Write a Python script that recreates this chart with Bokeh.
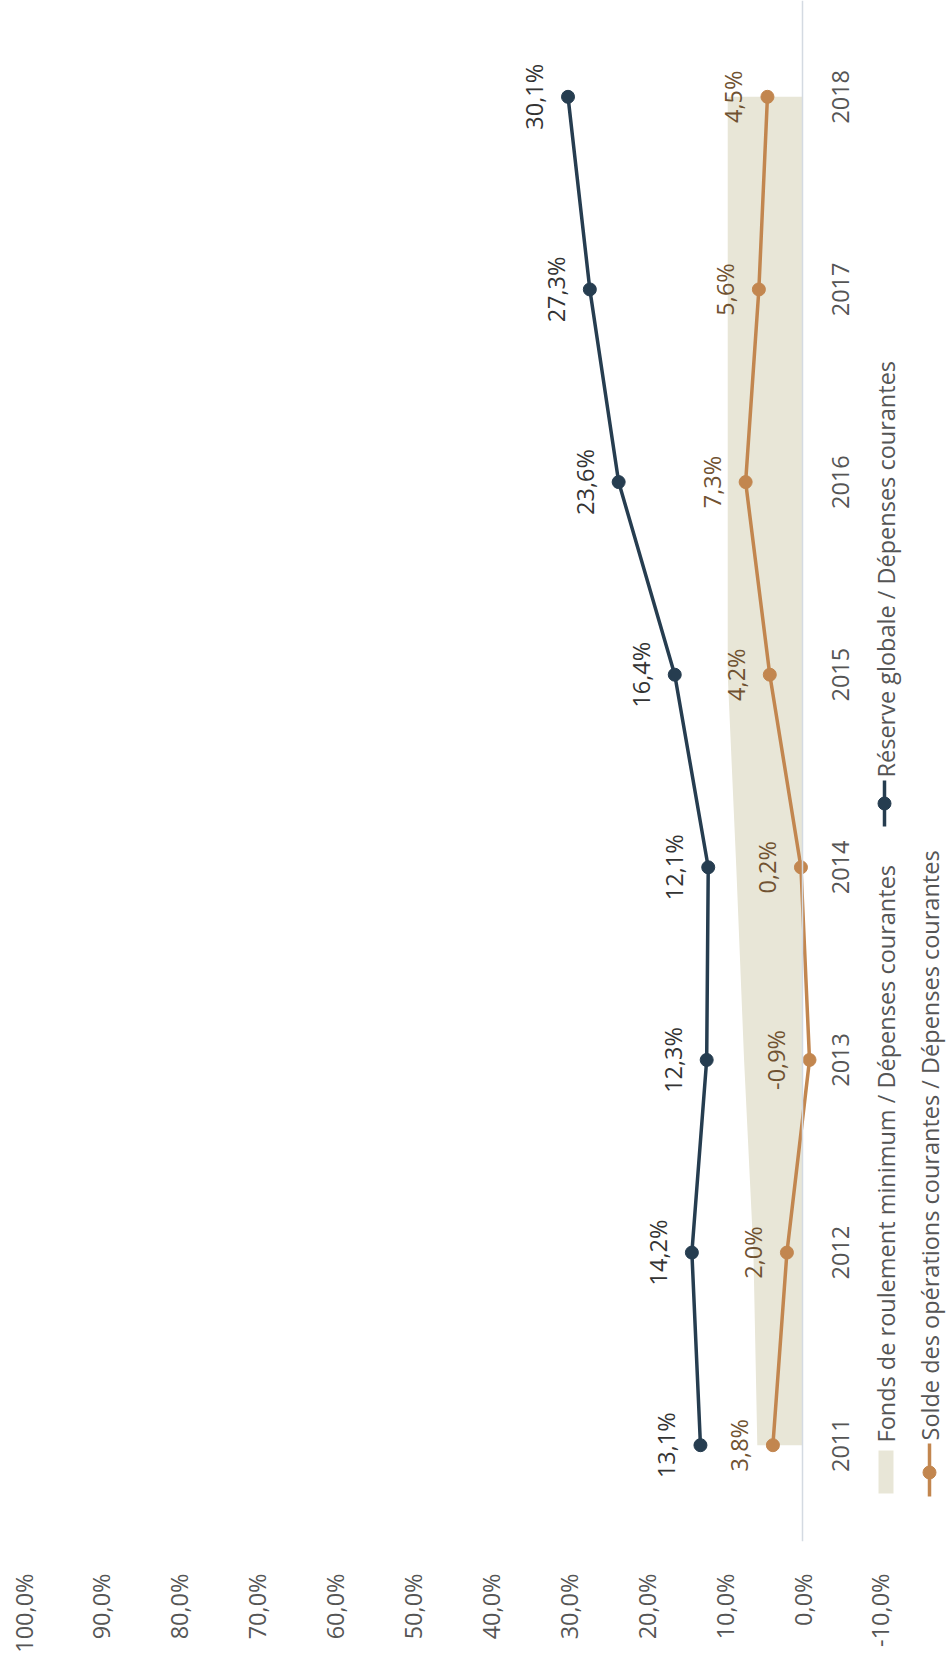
import math
from bokeh.plotting import figure
from bokeh.models import ColumnDataSource, FixedTicker, Range1d, Span, Label
from bokeh.core.properties import value
from bokeh.embed import file_html
from bokeh.resources import INLINE

# ---------------- data ----------------
years = [2011, 2012, 2013, 2014, 2015, 2016, 2017, 2018]
year_labels = ["2011", "2012", "2013", "2014", "2015", "2016", "2017", "2018"]
reserve_globale = [13.1, 14.2, 12.3, 12.1, 16.4, 23.6, 27.3, 30.1]
solde_operations = [3.8, 2.0, -0.9, 0.2, 4.2, 7.3, 5.6, 4.5]
fonds_roulement_min = [5.8, 6.3, 7.5, 8.5, 9.6, 9.6, 9.6, 9.6]
value_ticks = [-10, 0, 10, 20, 30, 40, 50, 60, 70, 80, 90, 100]
legend_labels = [
    "Fonds de roulement minimum / Dépenses courantes",
    "Réserve globale / Dépenses courantes",
    "Solde des opérations courantes / Dépenses courantes",
]

# ---------------- styles ----------------
FONT = "Open Sans"
FS = "23.5px"
NAVY = "#263d50"
ORANGE = "#c2864f"
BEIGE = "#e8e6d7"
GREY_TXT = "#555555"
DARK_TXT = "#333333"
BROWN_TXT = "#705231"
AXIS_LINE = "#d4dae2"

W, H = 948, 1656
FRAME_L, FRAME_R = 23, 948
FRAME_T, FRAME_B = 0, 1541
XMAX = 100.0
PX_PER_UNIT = 7.79
XMIN = XMAX - (FRAME_R - FRAME_L) / PX_PER_UNIT
YLO, YHI = 2010.5, 2018.5


def vx(px):
    return XMAX - (px - FRAME_L) / PX_PER_UNIT


def vy(py):
    return YHI - (py - FRAME_T) * (YHI - YLO) / (FRAME_B - FRAME_T)


p = figure(
    width=W, height=H,
    x_range=Range1d(XMAX, XMIN), y_range=Range1d(YLO, YHI),
    output_backend="svg", toolbar_location=None,
    y_axis_location=None,
    min_border_left=FRAME_L, min_border_right=W - FRAME_R,
    min_border_top=FRAME_T, min_border_bottom=H - FRAME_B,
)
p.outline_line_color = None
p.grid.visible = False
p.background_fill_color = "white"
p.border_fill_color = "white"

# value axis (rotated labels)
ax = p.xaxis[0]
ax.ticker = FixedTicker(ticks=value_ticks)
ax.major_label_overrides = {t: (f"{t:.1f}%").replace(".", ",") for t in value_ticks}
ax.major_label_orientation = math.pi / 2
ax.axis_line_color = None
ax.major_tick_line_color = None
ax.minor_tick_line_color = None
ax.major_label_text_font = FONT
ax.major_label_text_font_size = FS
ax.major_label_text_color = GREY_TXT
ax.major_label_standoff = 26

src = ColumnDataSource(dict(
    year=years,
    zero=[0] * len(years),
    fonds=fonds_roulement_min,
    reserve=reserve_globale,
    solde=solde_operations,
    reserve_lbl=[(f"{v:.1f}%").replace(".", ",") for v in reserve_globale],
    solde_lbl=[(f"{v:.1f}%").replace(".", ",") for v in solde_operations],
    year_lbl=year_labels,
))

# area : fonds de roulement minimum
p.harea(x1="zero", x2="fonds", y="year", source=src, fill_color=BEIGE)

# category axis line at 0
p.add_layout(Span(location=0, dimension="height", line_color=AXIS_LINE, line_width=1.5))

# year labels next to the category axis
p.text(x="zero", y="year", text="year_lbl", source=src, angle=math.pi / 2,
       x_offset=38, text_align="center", text_baseline="middle",
       text_font=value(FONT), text_font_size=FS, text_color=GREY_TXT)

# lines
p.line(x="reserve", y="year", source=src, line_color=NAVY, line_width=3.5)
p.scatter(x="reserve", y="year", source=src, size=13, fill_color=NAVY, line_color=NAVY)
p.line(x="solde", y="year", source=src, line_color=ORANGE, line_width=3.5)
p.scatter(x="solde", y="year", source=src, size=13, fill_color=ORANGE, line_color=ORANGE)

# data labels
p.text(x="reserve", y="year", text="reserve_lbl", source=src, angle=math.pi / 2,
       x_offset=-34, text_align="center", text_baseline="middle",
       text_font=value(FONT), text_font_size=FS, text_color=DARK_TXT)
p.text(x="solde", y="year", text="solde_lbl", source=src, angle=math.pi / 2,
       x_offset=-34, text_align="center", text_baseline="middle",
       text_font=value(FONT), text_font_size=FS, text_color=BROWN_TXT)

# ---------------- legend (rotated, drawn manually) ----------------
def legend_text(px, py, txt):
    p.add_layout(Label(x=vx(px), y=vy(py), text=txt, angle=math.pi / 2,
                       text_align="left", text_baseline="middle",
                       text_font=FONT, text_font_size=FS, text_color=GREY_TXT))


# row 1: Fonds (area key) + Réserve (line key)
p.quad(left=[vx(878)], right=[vx(893)], bottom=[vy(1493)], top=[vy(1450)],
       fill_color=BEIGE, line_color=None)
legend_text(885, 1442, legend_labels[0])
p.segment(x0=[vx(884)], y0=[vy(826)], x1=[vx(884)], y1=[vy(780)],
          line_color=NAVY, line_width=3.5)
p.scatter(x=[vx(884)], y=[vy(803)], size=13, fill_color=NAVY, line_color=NAVY)
legend_text(885, 777, legend_labels[1])
# row 2: Solde (line key)
p.segment(x0=[vx(929)], y0=[vy(1496)], x1=[vx(929)], y1=[vy(1443)],
          line_color=ORANGE, line_width=3.5)
p.scatter(x=[vx(929)], y=[vy(1472)], size=13, fill_color=ORANGE, line_color=ORANGE)
legend_text(929, 1440, legend_labels[2])

open("out.html", "w").write(file_html(p, INLINE))
